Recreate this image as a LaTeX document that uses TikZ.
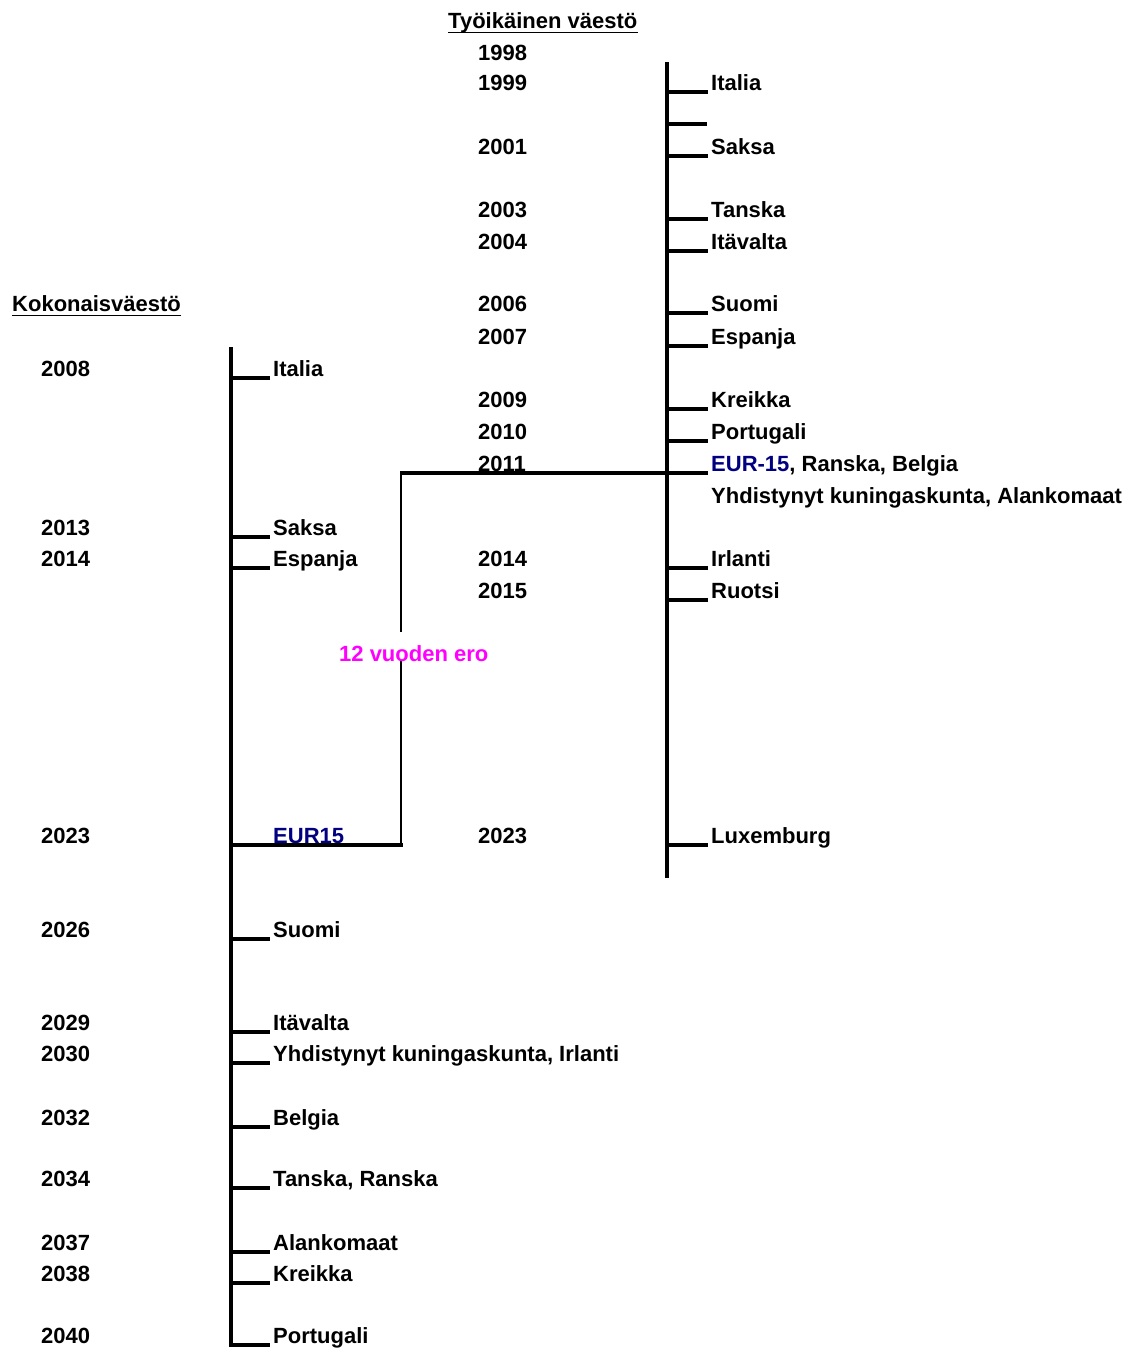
\documentclass[tikz,border=0pt]{standalone}
\usepackage{fontspec}
\setmainfont{Liberation Sans}
\definecolor{eurblue}{RGB}{0,0,128}
\definecolor{gapmag}{RGB}{255,0,255}
\tikzset{
  txt/.style={font=\bfseries\fontsize{22}{24}\selectfont, inner sep=0pt, anchor=base west},
  axisline/.style={line width=3.3pt},
  tickline/.style={line width=3.2pt, shorten >=3pt},
  link/.style={line width=2pt},
  uline/.style={line width=1.8pt},
}
\newcommand\lrow[4]{%
  \node[txt] (ly#1) at (41,#2-1.5) {#3};
  \node[txt] (ll#1) at (273,#2-1.5) {#4};
  \coordinate (lk#1) at (231,#2);
  \draw[tickline] (lk#1) -- (lk#1 -| ll#1.west);}
\newcommand\rrow[4]{%
  \node[txt] (ry#1) at (478,#2-1.5) {#3};
  \node[txt] (rl#1) at (711,#2-1.5) {#4};
  \coordinate (rk#1) at (667,#2);
  \draw[tickline] (rk#1) -- (rk#1 -| rl#1.west);}
\begin{document}
\begin{tikzpicture}[x=1pt,y=-1pt]
\useasboundingbox (0,0) rectangle (1130,1350);
% titles
\node[txt] (ttop) at (448,28.5) {Työikäinen väestö};
\draw[uline] ([yshift=-4pt]ttop.base west) -- ([yshift=-4pt]ttop.base east);
\node[txt] (tleft) at (12,311.5) {Kokonaisväestö};
\draw[uline] ([yshift=-4pt]tleft.base west) -- ([yshift=-4pt]tleft.base east);
% axes
\coordinate (ltop) at (231,347);
\coordinate (lbot) at (231,1346.6);
\draw[axisline] (ltop) -- (lbot);
\coordinate (rtop) at (667,62);
\coordinate (rbot) at (667,878);
\draw[axisline] (rtop) -- (rbot);
% right column
\node[txt] (ry98) at (478,60.5) {1998};
\rrow{a}{92}{1999}{Italia}
\coordinate (rk00) at (667,124);
\coordinate (rk00e) at (707,124);
\draw[tickline, shorten >=0pt] (rk00) -- (rk00e);
\rrow{b}{156}{2001}{Saksa}
\rrow{c}{219}{2003}{Tanska}
\rrow{d}{251}{2004}{Itävalta}
\rrow{e}{313}{2006}{Suomi}
\rrow{f}{346}{2007}{Espanja}
\rrow{g}{409}{2009}{Kreikka}
\rrow{h}{441}{2010}{Portugali}
\rrow{i}{473}{2011}{{\color{eurblue}EUR-15}, Ranska, Belgia}
\node[txt] (rlj) at (711,503) {Yhdistynyt kuningaskunta, Alankomaat};
\rrow{k}{568}{2014}{Irlanti}
\rrow{l}{600}{2015}{Ruotsi}
\rrow{m}{845}{2023}{Luxemburg}
% left column
\lrow{a}{378}{2008}{Italia}
\lrow{b}{537}{2013}{Saksa}
\lrow{c}{568}{2014}{Espanja}
\lrow{d}{845}{2023}{\color{eurblue}EUR15}
\lrow{e}{939}{2026}{Suomi}
\lrow{f}{1032}{2029}{Itävalta}
\lrow{g}{1063}{2030}{Yhdistynyt kuningaskunta, Irlanti}
\lrow{h}{1127}{2032}{Belgia}
\lrow{i}{1188}{2034}{Tanska, Ranska}
\lrow{j}{1252}{2037}{Alankomaat}
\lrow{k}{1283}{2038}{Kreikka}
\lrow{l}{1345}{2040}{Portugali}
% 12-year gap connector
\coordinate (jt) at (400,473);
\coordinate (ju) at (401,632);
\coordinate (jl) at (401,660);
\coordinate (jb) at (402.5,845);
\draw[axisline] (jt) -- (rki);
\draw[link] (jt -| ju) -- (ju);
\draw[link] (jl) -- (jl |- jb);
\draw[axisline] (lkd) -- (jb);
\node[txt, text=gapmag] (gap) at (339,661.5) {12 vuoden ero};
\end{tikzpicture}
\end{document}
